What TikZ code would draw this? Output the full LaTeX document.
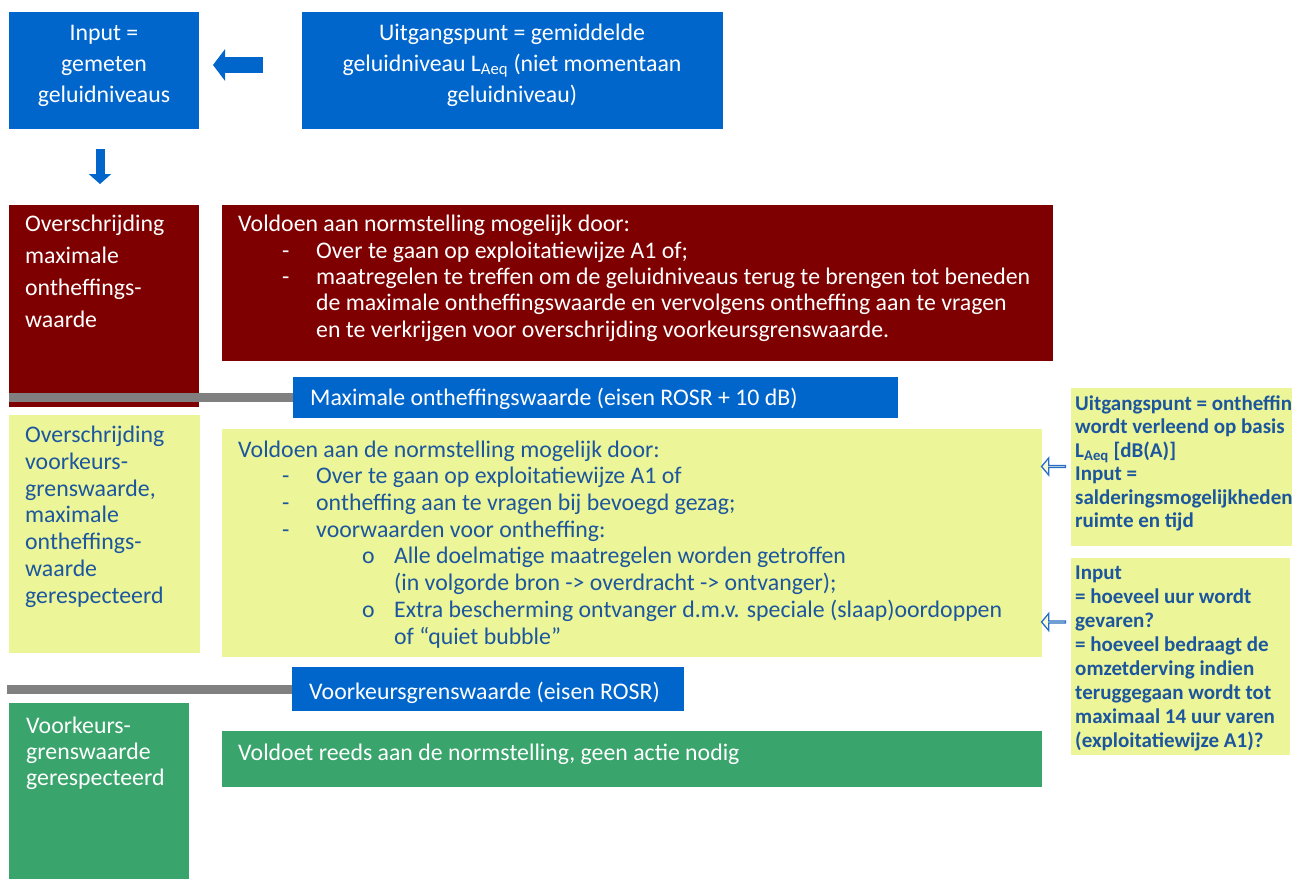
\documentclass[tikz,border=0pt]{standalone}
\usepackage{fontspec}
\setmainfont{Carlito}
\usetikzlibrary{positioning, arrows.meta, shapes.arrows}

\definecolor{ontblue}{RGB}{0,102,204}
\definecolor{ontred}{RGB}{127,0,0}
\definecolor{ontyellow}{RGB}{236,245,152}
\definecolor{ontgreen}{RGB}{57,164,108}
\definecolor{ontgray}{RGB}{128,128,128}
\definecolor{ontink}{RGB}{28,86,158}
\definecolor{ontline}{RGB}{40,110,200}

% list markers
\newcommand{\dashitem}{\hspace*{44pt}\makebox[34pt][l]{-}}
\newcommand{\dashcont}{\hspace*{78pt}}
\newcommand{\circitem}{\hspace*{124pt}\makebox[32pt][l]{o}}
\newcommand{\circcont}{\hspace*{156pt}}

\tikzset{
  box/.style={rectangle, inner sep=0pt, outer sep=0pt, anchor=north west},
  bluebox/.style={box, fill=ontblue},
  redbox/.style={box, fill=ontred},
  yelbox/.style={box, fill=ontyellow},
  grnbox/.style={box, fill=ontgreen},
  wtext/.style={text=white, inner sep=0pt, align=left, anchor=base west,
    font=\fontsize{23.8}{26.3}\selectfont},
  btext/.style={text=ontink, inner sep=0pt, align=left, anchor=base west,
    font=\fontsize{23.8}{26.67}\selectfont},
  rtext/.style={text=ontink, inner sep=0pt, align=left, anchor=base west,
    font=\bfseries\fontsize{21}{23.4}\selectfont},
  fatarrow/.style={draw=ontblue, line width=16pt, -{Triangle[length=12pt, width=31pt]}},
  downarrow/.style={draw=ontblue, line width=9pt, -{Triangle[length=10pt, width=22pt]}},
  hollow/.style={single arrow, draw=ontline, fill=ontyellow!35, line width=1.3pt,
    minimum height=24pt, minimum width=17pt, single arrow head extend=4.5pt,
    single arrow tip angle=100, inner sep=0pt, shape border rotate=180},
  grayline/.style={draw=ontgray, line width=9pt},
}

\begin{document}
\begin{tikzpicture}[x=1pt, y=-1pt]
\clip (0,0) rectangle (1292,878);

% top row (multi-line texts are placed at the baseline of their last line)
\node[bluebox, minimum width=190, minimum height=117] (input) at (9,12) {};
\node[bluebox, minimum width=421, minimum height=117] (uitg) at (302,12) {};
\node[wtext, align=center, anchor=base, font=\fontsize{23.8}{31}\selectfont] (inputtxt)
  at (104,102) {Input =\\gemeten\\geluidniveaus};
\node[wtext, align=center, anchor=base, font=\fontsize{23.8}{31}\selectfont] (uitgtxt)
  at (512,102) {Uitgangspunt = gemiddelde\\geluidniveau L\textsubscript{Aeq} (niet momentaan\\geluidniveau)};
\draw[fatarrow, shorten <=39pt, shorten >=14pt] ([yshift=5.5pt]uitg.west) -- ([yshift=5.5pt]input.east);

% overschrijding maximale ontheffingswaarde
\node[redbox, minimum width=190, minimum height=202] (overmax) at (9,205) {};
\node[redbox, minimum width=831, minimum height=156] (maxdoor) at (222,205) {};
\draw[downarrow, shorten <=20pt, shorten >=21pt] ([xshift=-4pt]input.south) -- ([xshift=-4pt]overmax.north);
\node[wtext, font=\fontsize{23.8}{31.7}\selectfont] (overmaxtxt) at (25,327)
  {Overschrijding\\maximale\\ontheffings-\\waarde};
\node[wtext] (maxdoortxt) at (238,337)
  {Voldoen aan normstelling mogelijk door:\\
   \dashitem Over te gaan op exploitatiewijze A1 of;\\
   \dashitem maatregelen te treffen om de geluidniveaus terug te brengen tot beneden\\
   \dashcont de maximale ontheffingswaarde en vervolgens ontheffing aan te vragen\\
   \dashcont en te verkrijgen voor overschrijding voorkeursgrenswaarde.};

% maximale ontheffingswaarde
\node[bluebox, minimum width=605, minimum height=41] (maxbar) at (293,377) {};
\node[wtext] (maxbartxt) at (310,405) {Maximale ontheffingswaarde (eisen ROSR + 10 dB)};
\coordinate (gl1) at (9,397.5);
\draw[grayline] (gl1) -- (maxbar.west);

% overschrijding voorkeursgrenswaarde
\node[yelbox, minimum width=191, minimum height=238] (overvkg) at (9,415) {};
\node[yelbox, minimum width=820, minimum height=228] (vkgdoor) at (222,429) {};
\node[btext] (overvkgtxt) at (25,603)
  {Overschrijding\\voorkeurs-\\grenswaarde,\\maximale\\ontheffings-\\waarde\\gerespecteerd};
\node[btext] (vkgdoortxt) at (238,644)
  {Voldoen aan de normstelling mogelijk door:\\
   \dashitem Over te gaan op exploitatiewijze A1 of\\
   \dashitem ontheffing aan te vragen bij bevoegd gezag;\\
   \dashitem voorwaarden voor ontheffing:\\
   \circitem Alle doelmatige maatregelen worden getroffen\\
   \circcont (in volgorde bron -> overdracht -> ontvanger);\\
   \circitem Extra bescherming ontvanger d.m.v. speciale (slaap)oordoppen\\
   \circcont of “quiet bubble”};

% uitgangspunten rechts
\node[yelbox, minimum width=240, minimum height=158] (basis) at (1071,388) {};
\node[yelbox, minimum width=219, minimum height=197] (uren) at (1071,558) {};
\node[rtext] (basistxt) at (1075,527.5)
  {Uitgangspunt = ontheffing\\wordt verleend op basis\\L\textsubscript{Aeq} [dB(A)]\\Input =\\salderingsmogelijkheden\\ruimte en tijd};
\node[rtext, font=\bfseries\fontsize{21}{24}\selectfont] (urentxt) at (1075,747.5)
  {Input\\= hoeveel uur wordt\\gevaren?\\= hoeveel bedraagt de\\omzetderving indien\\teruggegaan wordt tot\\maximaal 14 uur varen\\(exploitatiewijze A1)?};
\node[hollow] (basisarr) at (1054,466.5) {};
\node[hollow] (urenarr) at (1054,622) {};

% voorkeursgrenswaarde
\node[bluebox, minimum width=392, minimum height=44] (vkgbar) at (292,667) {};
\node[wtext] (vkgbartxt) at (309,699) {Voorkeursgrenswaarde (eisen ROSR)};
\coordinate (gl2) at (7,689);
\draw[grayline] (gl2) -- (vkgbar.west);

% voorkeursgrenswaarde gerespecteerd
\node[grnbox, minimum width=180, minimum height=180] (vkgok) at (9,703) {};
\node[grnbox, minimum width=820, minimum height=56] (geenactie) at (222,731) {};
\node[wtext, font=\fontsize{23.8}{25.7}\selectfont] (vkgoktxt) at (26,785)
  {Voorkeurs-\\grenswaarde\\gerespecteerd};
\node[wtext] (geenactietxt) at (238,760) {Voldoet reeds aan de normstelling, geen actie nodig};
\end{tikzpicture}
\end{document}
